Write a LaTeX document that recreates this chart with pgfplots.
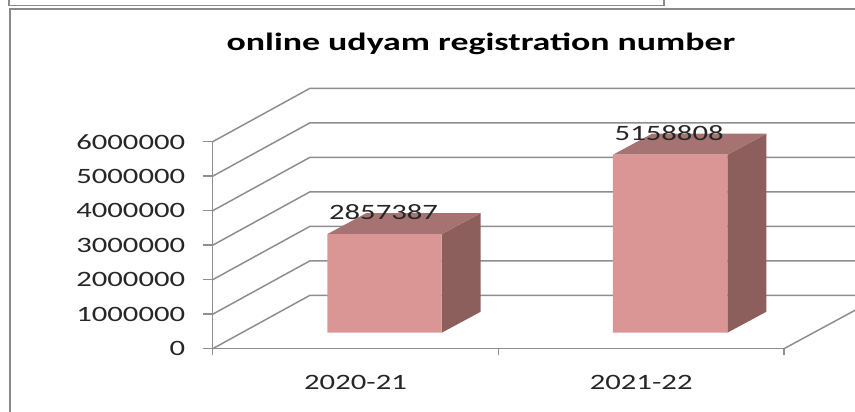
\documentclass[border=0pt]{standalone}
\usepackage{fontspec}
\setmainfont{Carlito}
\usepackage{graphicx}
\usepackage{pgfplots}
\pgfplotsset{compat=1.18}
\definecolor{gridgray}{HTML}{8E8E8E}
\definecolor{framegray}{HTML}{8A8A8A}
\definecolor{barfront}{HTML}{DA9694}
\definecolor{bartop}{HTML}{A67372}
\definecolor{barside}{HTML}{8C5F5D}
\newcommand{\wide}[1]{\scalebox{1.4}[1]{#1}}
\begin{document}
\begin{tikzpicture}
\path[use as bounding box] (0,0) rectangle (855bp,412bp);
% frames around the chart
\draw[framegray,line width=1.8bp] (10bp,0bp) -- (10bp,403bp) -- (855bp,403bp);
\draw[framegray,line width=1.2bp] (9bp,412bp) -- (9bp,406.5bp) -- (664bp,406.5bp) -- (664bp,412bp);
\begin{axis}[
  at={(212.7bp,63.3bp)}, anchor=south west,
  scale only axis, width=571.3bp, height=207bp,
  xmin=-0.5, xmax=1.5, ymin=0, ymax=6000000,
  clip=false,
  axis x line*=bottom, axis y line*=left,
  axis line style={-,gridgray,line width=1.5bp},
  tick style={gridgray,line width=1.5bp},
  tick align=outside,
  xtick={0,1}, xticklabels={\wide{2020-21},\wide{2021-22}},
  minor xtick={-0.5,0.5,1.5},
  major x tick style={draw=none},
  minor tick length=6bp,
  ytick={0,1000000,2000000,3000000,4000000,5000000,6000000},
  yticklabels={\wide{0},\wide{1000000},\wide{2000000},\wide{3000000},\wide{4000000},\wide{5000000},\wide{6000000}},
  major tick length=10bp,
  scaled y ticks=false,
  ticklabel style={font=\fontsize{22}{24}\selectfont,text=black!85},
  yticklabel style={xshift=-14bp},
  xticklabel style={yshift=-13bp},
  title={\scalebox{1.44}[1]{\bfseries online udyam registration number}},
  title style={at={(axis description cs:0.4696,1.41)},anchor=base,
    font=\fontsize{25}{27}\selectfont},
]
% wall and floor lines
\addplot[gridgray,line width=1.5bp] coordinates {(-0.5,0) (-0.1594,1547826) (1.7485,1547826)};
\addplot[gridgray,line width=1.5bp] coordinates {(-0.5,1000000) (-0.1594,2547826) (1.7485,2547826)};
\addplot[gridgray,line width=1.5bp] coordinates {(-0.5,2000000) (-0.1594,3547826) (1.7485,3547826)};
\addplot[gridgray,line width=1.5bp] coordinates {(-0.5,3000000) (-0.1594,4547826) (1.7485,4547826)};
\addplot[gridgray,line width=1.5bp] coordinates {(-0.5,4000000) (-0.1594,5547826) (1.7485,5547826)};
\addplot[gridgray,line width=1.5bp] coordinates {(-0.5,5000000) (-0.1594,6547826) (1.7485,6547826)};
\addplot[gridgray,line width=1.5bp] coordinates {(-0.5,6000000) (-0.1594,7547826) (1.7485,7547826)};
\addplot[gridgray,line width=1.5bp] coordinates {(1.5,0) (1.7485,1113043)};
% side and top faces
\addplot[fill=barside,draw=none,xshift=29bp,yshift=16bp] coordinates {(0.2003,0) (0.3368,608696) (0.3368,3466083) (0.2003,2857387)} -- cycle;
\addplot[fill=bartop,draw=none,xshift=29bp,yshift=16bp] coordinates {(-0.2003,2857387) (0.2003,2857387) (0.3368,3466083) (-0.0638,3466083)} -- cycle;
\addplot[fill=barside,draw=none,xshift=29bp,yshift=16bp] coordinates {(1.2003,0) (1.3368,608696) (1.3368,5767504) (1.2003,5158808)} -- cycle;
\addplot[fill=bartop,draw=none,xshift=29bp,yshift=16bp] coordinates {(0.7997,5158808) (1.2003,5158808) (1.3368,5767504) (0.9362,5767504)} -- cycle;
% front faces
\addplot[ybar,bar width=114.4bp,bar shift=0pt,fill=barfront,draw=none,xshift=29bp,yshift=16bp,
  nodes near coords,
  nodes near coords style={anchor=base,xshift=-1bp,yshift=14.5bp,font=\fontsize{22}{24}\selectfont,text=black!85},
  point meta=explicit symbolic,
] coordinates {(0,2857387) [\wide{2857387}] (1,5158808) [\wide{5158808}]};
\end{axis}
\end{tikzpicture}
\end{document}
